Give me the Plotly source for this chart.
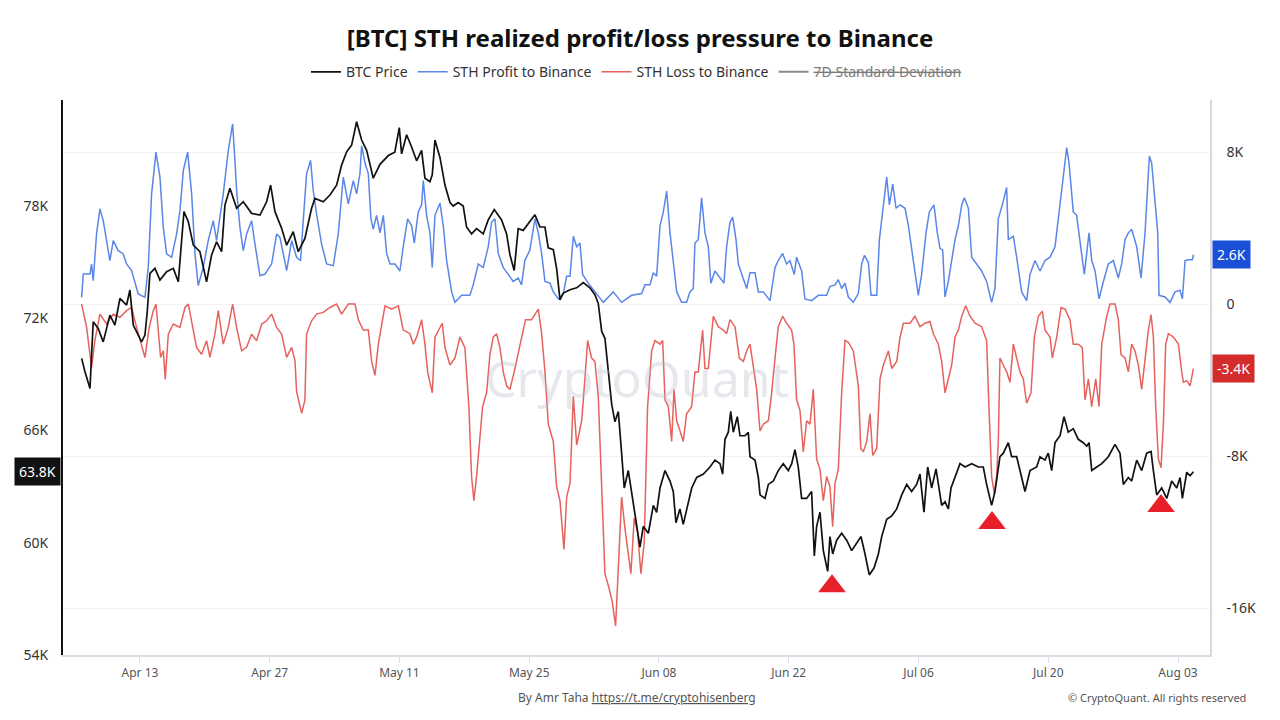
"""
BTC short-term holder realized profit / loss flowing to Binance, plotted
against the BTC price, in the CryptoQuant chart style.
"""

import pandas as pd
import plotly.graph_objects as go

START = pd.Timestamp("2026-04-13")

# (days after Apr 13, BTC price in K USD)
btc_price_k = [
    (-6.29, 69.86), (-5.93, 69.14), (-5.39, 68.25), (-5.04, 71.81), (-4.50, 71.46),
    (-3.96, 70.74), (-3.24, 72.17), (-2.70, 71.64), (-2.16, 73.06), (-1.44, 72.71),
    (-1.08, 73.51), (-0.72, 71.64), (0.18, 70.74), (0.54, 71.10), (0.79, 72.35),
    (1.08, 74.40), (1.62, 74.67), (2.16, 74.04), (2.88, 74.49), (3.60, 74.67),
    (4.14, 73.95), (4.50, 76.45), (4.75, 77.70), (5.22, 77.16), (5.76, 75.91),
    (6.47, 75.56), (7.19, 73.95), (7.73, 75.38), (8.27, 76.09), (8.81, 75.56),
    (9.17, 78.05), (9.71, 78.95), (10.43, 77.88), (11.15, 78.23), (12.05, 77.61),
    (12.95, 77.52), (13.67, 78.23), (14.10, 79.12), (14.57, 77.70), (15.29, 76.81),
    (15.83, 75.91), (16.54, 76.63), (17.08, 75.56), (17.80, 76.27), (18.52, 77.88),
    (18.88, 78.41), (19.78, 78.23), (20.50, 78.59), (21.22, 79.12), (21.76, 80.19),
    (22.30, 80.90), (22.84, 81.26), (23.38, 82.51), (23.92, 81.53), (24.46, 80.98),
    (24.82, 80.23), (25.17, 79.49), (25.90, 80.23), (26.80, 80.70), (27.50, 80.88),
    (27.98, 82.19), (28.23, 80.79), (28.77, 81.81), (29.31, 81.16), (29.85, 80.42),
    (30.39, 80.98), (30.75, 79.49), (31.29, 79.30), (31.54, 79.67), (31.83, 81.53),
    (32.37, 80.60), (32.91, 79.12), (33.45, 78.19), (33.80, 78.00), (34.34, 78.19),
    (34.88, 78.00), (35.24, 76.88), (35.78, 76.51), (36.32, 76.79), (37.04, 76.51),
    (37.58, 77.26), (38.23, 77.81), (38.66, 77.53), (39.02, 77.26), (39.56, 76.51),
    (39.92, 75.40), (40.38, 74.56), (40.81, 76.79), (41.35, 76.70), (41.89, 77.07),
    (42.62, 77.53), (43.16, 76.88), (43.70, 76.88), (44.05, 75.77), (44.60, 75.67),
    (44.96, 74.65), (45.32, 72.98), (45.68, 73.35), (46.40, 73.53), (47.12, 73.63),
    (47.83, 73.91), (48.55, 73.63), (49.09, 73.26), (49.45, 72.79), (49.82, 71.30),
    (50.17, 70.93), (50.53, 69.26), (50.90, 67.40), (51.25, 66.47), (51.61, 67.02),
    (51.97, 64.79), (52.25, 62.93), (52.69, 63.86), (53.05, 62.74), (53.59, 61.07),
    (53.95, 59.77), (54.31, 60.88), (54.85, 60.51), (55.39, 62.00), (55.75, 61.63),
    (56.11, 62.93), (56.65, 63.86), (57.19, 63.30), (57.54, 62.74), (57.83, 61.07),
    (58.26, 61.81), (58.62, 60.98), (58.99, 61.81), (59.53, 62.93), (60.07, 63.49),
    (60.79, 63.67), (61.50, 64.05), (62.04, 64.42), (62.58, 64.23), (62.87, 63.67),
    (63.12, 65.53), (63.48, 65.91), (63.74, 67.02), (64.02, 65.91), (64.45, 66.74),
    (64.74, 65.72), (65.28, 65.72), (65.64, 65.91), (65.82, 64.60), (66.36, 64.42),
    (66.72, 63.49), (66.90, 62.56), (67.44, 62.37), (67.80, 63.12), (68.34, 63.30),
    (68.87, 63.86), (69.41, 64.23), (69.95, 63.86), (70.32, 64.23), (70.67, 64.98),
    (71.03, 64.05), (71.39, 62.37), (71.93, 62.37), (72.47, 62.74), (72.76, 59.30),
    (73.01, 60.88), (73.37, 61.63), (73.73, 59.58), (74.20, 58.47), (74.45, 60.33),
    (74.74, 59.40), (75.17, 60.14), (75.71, 60.51), (76.25, 60.14), (76.79, 59.58),
    (77.33, 59.95), (77.80, 60.33), (78.23, 59.40), (78.69, 58.28), (79.20, 58.65),
    (79.67, 59.40), (80.03, 60.33), (80.57, 61.26), (81.11, 61.44), (81.65, 61.81),
    (82.19, 62.56), (82.73, 63.12), (83.26, 62.74), (83.80, 63.12), (84.16, 63.67),
    (84.59, 61.63), (84.99, 64.05), (85.42, 62.93), (85.89, 63.95), (86.50, 62.00),
    (86.86, 62.19), (87.22, 61.81), (87.51, 62.93), (87.94, 63.49), (88.48, 64.23),
    (89.02, 64.05), (89.74, 64.23), (90.45, 64.05), (90.99, 64.05), (91.35, 63.12),
    (91.89, 62.00), (92.25, 62.74), (92.79, 64.60), (93.15, 64.79), (93.69, 65.35),
    (94.05, 64.60), (94.59, 64.60), (94.95, 63.86), (95.49, 62.74), (96.03, 63.86),
    (96.75, 64.05), (97.11, 64.60), (97.65, 64.42), (98.00, 64.79), (98.37, 63.86),
    (98.73, 65.35), (99.27, 65.72), (99.70, 66.74), (100.16, 65.91), (100.70, 66.10),
    (101.24, 65.53), (101.78, 65.35), (102.15, 65.16), (102.40, 65.35), (102.69, 63.86),
    (103.23, 64.05), (103.77, 64.23), (104.48, 64.60), (105.20, 65.26), (105.74, 64.79),
    (106.10, 63.12), (106.64, 63.49), (107.00, 63.30), (107.54, 64.42), (108.08, 63.86),
    (108.62, 64.79), (109.09, 64.88), (109.34, 63.86), (109.70, 62.56), (110.24, 62.93),
    (110.78, 62.37), (111.32, 63.30), (111.86, 62.93), (112.22, 63.49), (112.47, 62.37),
    (112.94, 63.77), (113.30, 63.58), (113.66, 63.80),
]

# (days after Apr 13, STH profit sent to Binance in K BTC)
sth_profit_k = [
    (-6.29, 0.35), (-6.11, 1.58), (-5.39, 1.58), (-5.22, 2.11), (-5.04, 1.23),
    (-4.68, 3.69), (-4.32, 5.01), (-3.96, 4.39), (-3.60, 3.34), (-3.24, 2.28),
    (-2.88, 3.34), (-2.34, 2.81), (-1.80, 2.64), (-1.44, 2.11), (-0.90, 1.76),
    (-0.18, 0.53), (0.54, 0.35), (0.90, 1.93), (1.26, 5.80), (1.73, 8.00),
    (2.16, 6.68), (2.52, 4.04), (2.88, 2.64), (3.42, 2.46), (3.96, 3.69),
    (4.32, 4.92), (4.68, 7.03), (5.15, 8.00), (5.58, 5.80), (5.94, 2.64),
    (6.29, 0.97), (6.83, 1.93), (7.37, 3.34), (7.91, 4.39), (8.27, 3.34),
    (8.99, 5.80), (9.53, 8.08), (10.00, 9.49), (10.25, 7.56), (10.43, 5.98),
    (10.79, 4.04), (11.15, 2.81), (11.51, 3.69), (12.05, 4.39), (12.41, 3.16),
    (12.95, 1.49), (13.49, 1.58), (14.21, 2.11), (14.75, 3.69), (15.11, 3.51),
    (15.83, 1.76), (16.37, 3.34), (16.90, 2.46), (17.33, 2.28), (17.62, 4.39),
    (17.98, 6.85), (18.41, 7.56), (18.70, 5.98), (19.06, 4.74), (19.60, 3.16),
    (20.14, 2.11), (20.86, 2.02), (21.40, 3.69), (21.94, 6.68), (22.48, 5.27),
    (23.02, 6.50), (23.38, 5.80), (23.74, 6.87), (23.92, 8.33), (24.28, 7.42),
    (24.64, 6.87), (24.92, 4.49), (25.17, 3.94), (25.53, 4.67), (25.90, 3.75),
    (26.26, 4.67), (26.62, 2.66), (26.98, 2.11), (27.52, 2.11), (28.05, 1.74),
    (28.41, 3.02), (28.88, 4.49), (29.31, 4.12), (29.60, 3.21), (30.03, 4.85),
    (30.39, 5.22), (30.57, 6.50), (30.93, 4.67), (31.29, 3.75), (31.54, 1.92),
    (31.83, 4.67), (32.37, 5.31), (32.73, 4.12), (33.09, 2.29), (33.63, 0.64),
    (33.99, 0.09), (34.70, 0.46), (35.60, 0.46), (35.96, 1.01), (36.50, 2.11),
    (37.04, 1.92), (37.58, 3.02), (37.94, 4.30), (38.30, 4.49), (38.66, 2.66),
    (39.20, 1.92), (39.74, 1.56), (40.27, 1.19), (40.81, 1.37), (41.17, 1.01),
    (41.53, 2.29), (42.07, 2.84), (42.62, 4.49), (42.98, 3.75), (43.34, 2.66),
    (43.70, 1.19), (44.24, 1.10), (44.60, 0.64), (45.14, 0.27), (45.68, 0.55),
    (46.04, 1.47), (46.40, 1.47), (46.76, 3.57), (47.12, 3.02), (47.48, 3.21),
    (47.76, 1.56), (48.37, 1.10), (49.09, 0.64), (49.99, 0.09), (51.07, 0.64),
    (51.97, 0.09), (53.05, 0.46), (54.13, 0.55), (54.49, 1.01), (55.03, 1.01),
    (55.39, 1.65), (55.75, 1.47), (56.11, 4.12), (56.47, 4.85), (56.83, 5.95),
    (57.19, 3.75), (57.55, 2.20), (57.91, 0.64), (58.44, 0.09), (58.98, 0.09),
    (59.34, 0.64), (59.70, 0.82), (59.88, 3.21), (60.24, 3.39), (60.60, 5.59),
    (60.96, 3.75), (61.32, 3.02), (61.60, 1.10), (62.04, 1.74), (62.58, 1.37),
    (63.01, 1.10), (63.30, 3.02), (63.66, 4.30), (63.95, 4.58), (64.31, 3.39),
    (64.56, 2.11), (64.92, 1.56), (65.46, 0.82), (65.82, 1.65), (66.36, 1.65),
    (66.72, 0.64), (67.26, 0.64), (67.98, 0.18), (68.52, 1.92), (68.87, 2.29),
    (69.34, 2.66), (69.77, 2.11), (70.13, 2.29), (70.60, 1.56), (70.85, 2.47),
    (71.39, 1.74), (71.75, 0.27), (72.47, 0.18), (73.19, 0.46), (74.09, 0.46),
    (74.45, 0.92), (74.99, 1.01), (75.35, 1.28), (75.71, 0.82), (76.07, 1.10),
    (76.43, 0.37), (76.97, 0.09), (77.51, 0.55), (77.87, 2.11), (78.16, 2.56),
    (78.59, 2.20), (78.88, 0.46), (79.49, 0.46), (79.78, 3.39), (80.21, 5.04),
    (80.57, 6.68), (80.86, 5.22), (81.22, 6.32), (81.58, 5.04), (82.01, 5.22),
    (82.55, 5.04), (82.91, 4.12), (83.44, 2.29), (83.98, 0.46), (84.34, 1.56),
    (84.81, 3.75), (85.17, 4.85), (85.67, 5.22), (86.03, 3.75), (86.32, 2.93),
    (86.61, 2.84), (86.86, 0.37), (87.22, 1.19), (87.58, 2.29), (87.94, 3.39),
    (88.30, 4.12), (88.66, 5.22), (88.95, 5.59), (89.38, 5.04), (89.74, 2.47),
    (90.28, 2.11), (90.81, 1.74), (91.35, 1.19), (91.89, 0.09), (92.25, 0.82),
    (92.61, 4.49), (93.04, 5.22), (93.51, 6.14), (93.69, 3.39), (94.23, 3.57),
    (94.59, 2.47), (95.13, 0.64), (95.67, 0.18), (96.03, 1.56), (96.57, 2.29),
    (97.11, 1.74), (97.65, 2.29), (98.19, 2.47), (98.73, 3.02), (99.27, 5.22),
    (99.63, 6.68), (99.99, 8.24), (100.24, 7.42), (100.52, 5.59), (100.70, 4.85),
    (101.06, 4.67), (101.42, 3.39), (101.89, 1.56), (102.40, 3.75), (102.69, 2.29),
    (103.05, 1.74), (103.48, 0.27), (103.95, 1.19), (104.48, 2.11), (105.02, 2.29),
    (105.56, 1.37), (105.92, 2.11), (106.28, 3.39), (106.64, 3.75), (107.00, 3.94),
    (107.54, 3.02), (108.01, 1.37), (108.44, 3.75), (108.73, 6.32), (108.91, 7.78),
    (109.16, 7.42), (109.52, 5.59), (109.81, 3.75), (109.95, 0.46), (110.60, 0.37),
    (111.14, 0.09), (111.68, 0.64), (112.22, 0.73), (112.47, 0.27), (112.76, 2.29),
    (113.12, 2.33), (113.55, 2.33), (113.66, 2.60),
]

# (days after Apr 13, STH loss sent to Binance in K BTC)
sth_loss_k = [
    (-6.29, 0.00), (-5.75, -1.23), (-5.22, -3.34), (-4.86, -1.93), (-4.32, -0.53),
    (-3.60, -1.05), (-2.88, -0.53), (-2.16, -0.70), (-1.44, -0.35), (-0.90, -0.18),
    (-0.36, -1.23), (0.18, -2.11), (0.54, -2.81), (1.00, -1.23), (1.44, -0.35),
    (1.73, 0.00), (1.98, -1.23), (2.23, -2.81), (2.52, -2.46), (2.73, -3.95),
    (3.06, -1.58), (3.60, -1.05), (4.32, -1.23), (4.86, -0.18), (5.22, 0.00),
    (5.58, -0.88), (6.11, -2.28), (6.65, -2.64), (7.19, -1.93), (7.55, -2.81),
    (8.09, -1.58), (8.45, -0.35), (8.99, -2.11), (9.53, -1.23), (10.00, 0.00),
    (10.43, -1.23), (10.97, -2.46), (11.51, -2.28), (12.05, -1.58), (12.59, -1.93),
    (13.13, -1.05), (13.67, -0.88), (14.21, -0.53), (14.75, -1.23), (15.29, -1.58),
    (15.83, -2.81), (16.37, -2.28), (16.73, -2.99), (16.90, -4.60), (17.45, -5.75),
    (17.80, -5.05), (17.98, -1.58), (18.52, -0.88), (19.06, -0.53), (19.78, -0.44),
    (20.50, -0.18), (21.22, 0.00), (21.76, -0.53), (22.48, 0.00), (23.20, 0.00),
    (23.56, -0.82), (24.10, -1.37), (24.64, -1.37), (25.00, -3.02), (25.36, -3.75),
    (25.72, -2.11), (26.08, -1.19), (26.44, -0.09), (27.16, -0.27), (27.88, -0.09),
    (28.41, -1.37), (29.13, -1.56), (29.49, -2.11), (29.85, -1.74), (30.39, -0.82),
    (30.75, -2.11), (31.04, -3.57), (31.54, -4.67), (31.83, -1.74), (32.19, -1.37),
    (32.62, -1.01), (32.91, -2.29), (33.45, -3.21), (33.99, -2.84), (34.52, -1.74),
    (35.06, -2.29), (35.49, -5.40), (35.78, -9.07), (36.03, -10.35), (36.32, -9.07),
    (36.68, -7.23), (36.97, -5.40), (37.40, -4.67), (37.76, -2.66), (38.12, -1.74),
    (38.48, -1.56), (38.84, -2.29), (39.20, -3.57), (39.56, -4.30), (39.92, -4.49),
    (40.38, -3.57), (40.81, -2.66), (41.17, -1.74), (41.60, -0.82), (42.25, -0.82),
    (42.98, -0.27), (43.34, -1.56), (43.70, -3.57), (44.06, -6.32), (44.60, -7.23),
    (44.96, -9.62), (45.32, -10.35), (45.75, -12.91), (46.04, -10.16), (46.40, -9.43),
    (46.76, -4.85), (47.12, -7.42), (47.66, -6.14), (48.01, -3.94), (48.30, -1.92),
    (48.73, -2.84), (49.09, -3.02), (49.45, -4.85), (49.81, -9.07), (50.17, -14.19),
    (50.60, -14.93), (50.96, -15.66), (51.32, -16.94), (51.61, -13.64), (51.97, -10.16),
    (52.33, -11.81), (52.69, -13.28), (52.97, -14.19), (53.33, -11.26), (53.69, -12.00),
    (54.05, -14.19), (54.41, -12.55), (54.77, -5.40), (55.21, -2.47), (55.57, -1.92),
    (56.11, -2.11), (56.40, -1.92), (56.65, -5.04), (57.01, -5.40), (57.37, -7.23),
    (57.62, -4.49), (57.91, -6.14), (58.27, -6.68), (58.62, -7.23), (58.98, -5.77),
    (59.52, -5.40), (59.88, -3.57), (60.24, -3.57), (60.71, -1.37), (60.96, -3.39),
    (61.32, -3.39), (61.86, -0.64), (62.40, -1.19), (62.94, -1.37), (63.30, -1.56),
    (63.66, -0.82), (64.20, -1.19), (64.67, -2.84), (65.10, -3.02), (65.46, -2.47),
    (65.82, -2.11), (66.18, -3.21), (66.54, -4.49), (66.90, -6.68), (67.26, -6.32),
    (67.80, -6.14), (68.16, -4.67), (68.52, -2.84), (68.87, -1.19), (69.34, -0.64),
    (69.77, -1.01), (70.31, -1.37), (70.56, -2.11), (70.85, -5.04), (71.21, -5.59),
    (71.57, -7.78), (71.93, -6.14), (72.29, -6.32), (72.65, -4.49), (73.01, -8.15),
    (73.37, -8.70), (73.73, -10.35), (74.09, -9.07), (74.45, -9.62), (74.74, -11.72),
    (74.99, -9.43), (75.35, -8.70), (75.71, -4.67), (76.07, -1.92), (76.43, -2.01),
    (76.97, -2.47), (77.51, -4.30), (77.77, -7.60), (78.05, -7.78), (78.41, -7.23),
    (78.77, -5.77), (79.06, -7.97), (79.49, -7.60), (79.85, -3.94), (80.21, -3.21),
    (80.75, -2.47), (81.11, -3.39), (81.65, -3.02), (82.01, -1.74), (82.37, -1.01),
    (83.09, -1.01), (83.62, -0.64), (84.16, -1.19), (84.70, -1.01), (85.24, -0.92),
    (85.60, -1.56), (86.14, -2.11), (86.50, -3.02), (86.86, -4.67), (87.22, -3.94),
    (87.58, -3.21), (87.94, -1.74), (88.30, -1.37), (88.66, -0.64), (89.09, -0.09),
    (89.56, -0.64), (90.10, -1.01), (90.81, -1.19), (91.35, -1.92), (91.60, -5.40),
    (91.89, -9.07), (92.18, -9.98), (92.43, -9.07), (92.61, -7.23), (92.79, -2.84),
    (93.15, -3.21), (93.51, -3.57), (93.87, -4.12), (94.23, -2.11), (94.59, -2.84),
    (94.95, -3.57), (95.31, -3.94), (95.67, -5.22), (96.14, -4.67), (96.50, -1.74),
    (96.93, -0.64), (97.36, -0.37), (97.65, -1.37), (98.19, -1.74), (98.44, -2.84),
    (98.91, -1.74), (99.38, -0.18), (99.81, -0.27), (100.34, -0.82), (100.70, -2.11),
    (101.24, -2.11), (101.67, -2.29), (101.96, -5.04), (102.33, -3.94), (102.69, -5.40),
    (103.12, -3.94), (103.48, -5.40), (103.77, -2.11), (104.31, -0.64), (104.66, 0.00),
    (105.20, 0.00), (105.56, -0.82), (105.85, -2.66), (106.28, -2.84), (106.64, -3.57),
    (107.00, -2.11), (107.36, -2.47), (107.72, -3.21), (108.08, -4.49), (108.44, -2.84),
    (108.80, -1.37), (109.09, -0.55), (109.34, -1.74), (109.59, -5.40), (109.88, -8.15),
    (110.17, -8.61), (110.42, -6.32), (110.67, -2.11), (110.96, -1.56), (111.50, -1.74),
    (112.04, -2.11), (112.40, -3.57), (112.58, -4.12), (112.94, -4.03), (113.30, -4.30),
    (113.66, -3.40),
]

# red triangles the author put under the price lows
marker_days = [74.67, 91.93, 110.17]
marker_price_k = [57.68, 61.05, 61.96]


def _to_xy(points):
    days, values = zip(*points)
    x = START + pd.to_timedelta(list(days), unit="D")
    return x, list(values)


def _value_box(fig, value, yref, color, side):
    # small coloured label with the latest value, sitting on the axis
    fig.add_annotation(
        text=f"{value:.1f}K",
        x=0 if side == "left" else 1,
        xref="paper",
        xanchor="right" if side == "left" else "left",
        xshift=-2 if side == "left" else 2,
        y=value,
        yref=yref,
        showarrow=False,
        bgcolor=color,
        borderpad=4,
        font=dict(size=14, color="white"),
    )


fig = go.Figure()

px_x, px_y = _to_xy(sth_profit_k)
fig.add_trace(
    go.Scatter(
        x=px_x, y=px_y, name="STH Profit to Binance", mode="lines",
        line=dict(color="#5a86e8", width=1.5), yaxis="y", legendrank=2,
    )
)

lx_x, lx_y = _to_xy(sth_loss_k)
fig.add_trace(
    go.Scatter(
        x=lx_x, y=lx_y, name="STH Loss to Binance", mode="lines",
        line=dict(color="#e6625d", width=1.5), yaxis="y", legendrank=3,
    )
)

bx_x, bx_y = _to_xy(btc_price_k)
fig.add_trace(
    go.Scatter(
        x=bx_x, y=bx_y, name="BTC Price", mode="lines",
        line=dict(color="#111111", width=1.7), yaxis="y2", legendrank=1,
    )
)

# the 7D standard deviation series is switched off in the original
fig.add_trace(
    go.Scatter(
        x=[None], y=[None], mode="lines",
        name="<span style='color:#7a7a7a'><s>7D Standard Deviation</s></span>",
        line=dict(color="#8a8a8a", width=2), yaxis="y2", legendrank=4,
    )
)

fig.add_trace(
    go.Scatter(
        x=START + pd.to_timedelta(marker_days, unit="D"),
        y=marker_price_k,
        mode="markers",
        marker=dict(symbol="triangle-up", size=24, color="#e8202a"),
        yaxis="y2",
        showlegend=False,
        hoverinfo="skip",
    )
)

fig.update_layout(
    width=1280,
    height=720,
    plot_bgcolor="white",
    paper_bgcolor="white",
    margin=dict(l=63, r=70, t=100, b=65),
    font=dict(family="Noto Sans", size=13, color="#333333"),
    title=dict(
        text="<b>[BTC] STH realized profit/loss pressure to Binance</b>",
        x=0.5,
        xanchor="center",
        y=0.947,
        yanchor="middle",
        font=dict(size=24, color="#111111"),
    ),
    legend=dict(
        orientation="h",
        x=0.5,
        xanchor="center",
        y=1.05,
        yanchor="middle",
        font=dict(size=14, color="#333333"),
        itemwidth=30,
    ),
    xaxis=dict(
        type="date",
        range=[START + pd.Timedelta(days=-8.3), START + pd.Timedelta(days=115.45)],
        tick0=START,
        dtick=14 * 86400000,
        tickformat="%b %d",
        showgrid=False,
        showline=True,
        linecolor="#dcdde6",
        linewidth=1.5,
        ticks="outside",
        ticklen=6,
        tickcolor="#dcdde6",
        tickfont=dict(size=12, color="#555555"),
        zeroline=False,
    ),
    yaxis=dict(
        side="right",
        range=[-18.47, 10.74],
        tickvals=[-16, -8, 0, 8],
        ticktext=["-16K", "-8K", "0", "8K"],
        showgrid=True,
        gridcolor="#f2f2f4",
        showline=True,
        linecolor="#d5d6de",
        linewidth=1.5,
        zeroline=False,
        ticklabelstandoff=12,
        tickfont=dict(size=14, color="#333333"),
    ),
    yaxis2=dict(
        side="left",
        overlaying="y",
        range=[54, 83.67],
        tickvals=[54, 60, 66, 72, 78],
        ticktext=["54K", "60K", "66K", "72K", "78K"],
        showgrid=False,
        showline=True,
        linecolor="#111111",
        linewidth=2,
        zeroline=False,
        ticklabelstandoff=10,
        tickfont=dict(size=14, color="#333333"),
    ),
)

# faint watermark in the middle of the plot
fig.add_annotation(
    text="CryptoQuant",
    x=0.5, y=0.5, xref="paper", yref="paper",
    showarrow=False,
    font=dict(size=50, color="rgba(185,185,205,0.35)", family="Noto Sans"),
)

_value_box(fig, btc_price_k[-1][1], "y2", "#111111", "left")
_value_box(fig, sth_profit_k[-1][1], "y", "#1a50d8", "right")
_value_box(fig, sth_loss_k[-1][1], "y", "#d42b2b", "right")

fig.add_annotation(
    text="By Amr Taha <u>https://t.me/cryptohisenberg</u>",
    x=0.5, y=-0.076, xref="paper", yref="paper",
    xanchor="center", yanchor="middle",
    showarrow=False,
    font=dict(size=12, color="#555555"),
)
fig.add_annotation(
    text="© CryptoQuant. All rights reserved",
    x=1.033, y=-0.077, xref="paper", yref="paper",
    xanchor="right", yanchor="middle",
    showarrow=False,
    font=dict(size=11, color="#555555"),
)

# drop the browser's default 8px page margin so the figure sits at (0, 0)
fig.write_html(
    "out.html",
    config={"displayModeBar": False},
    post_script="document.body.style.margin = '0';",
)
